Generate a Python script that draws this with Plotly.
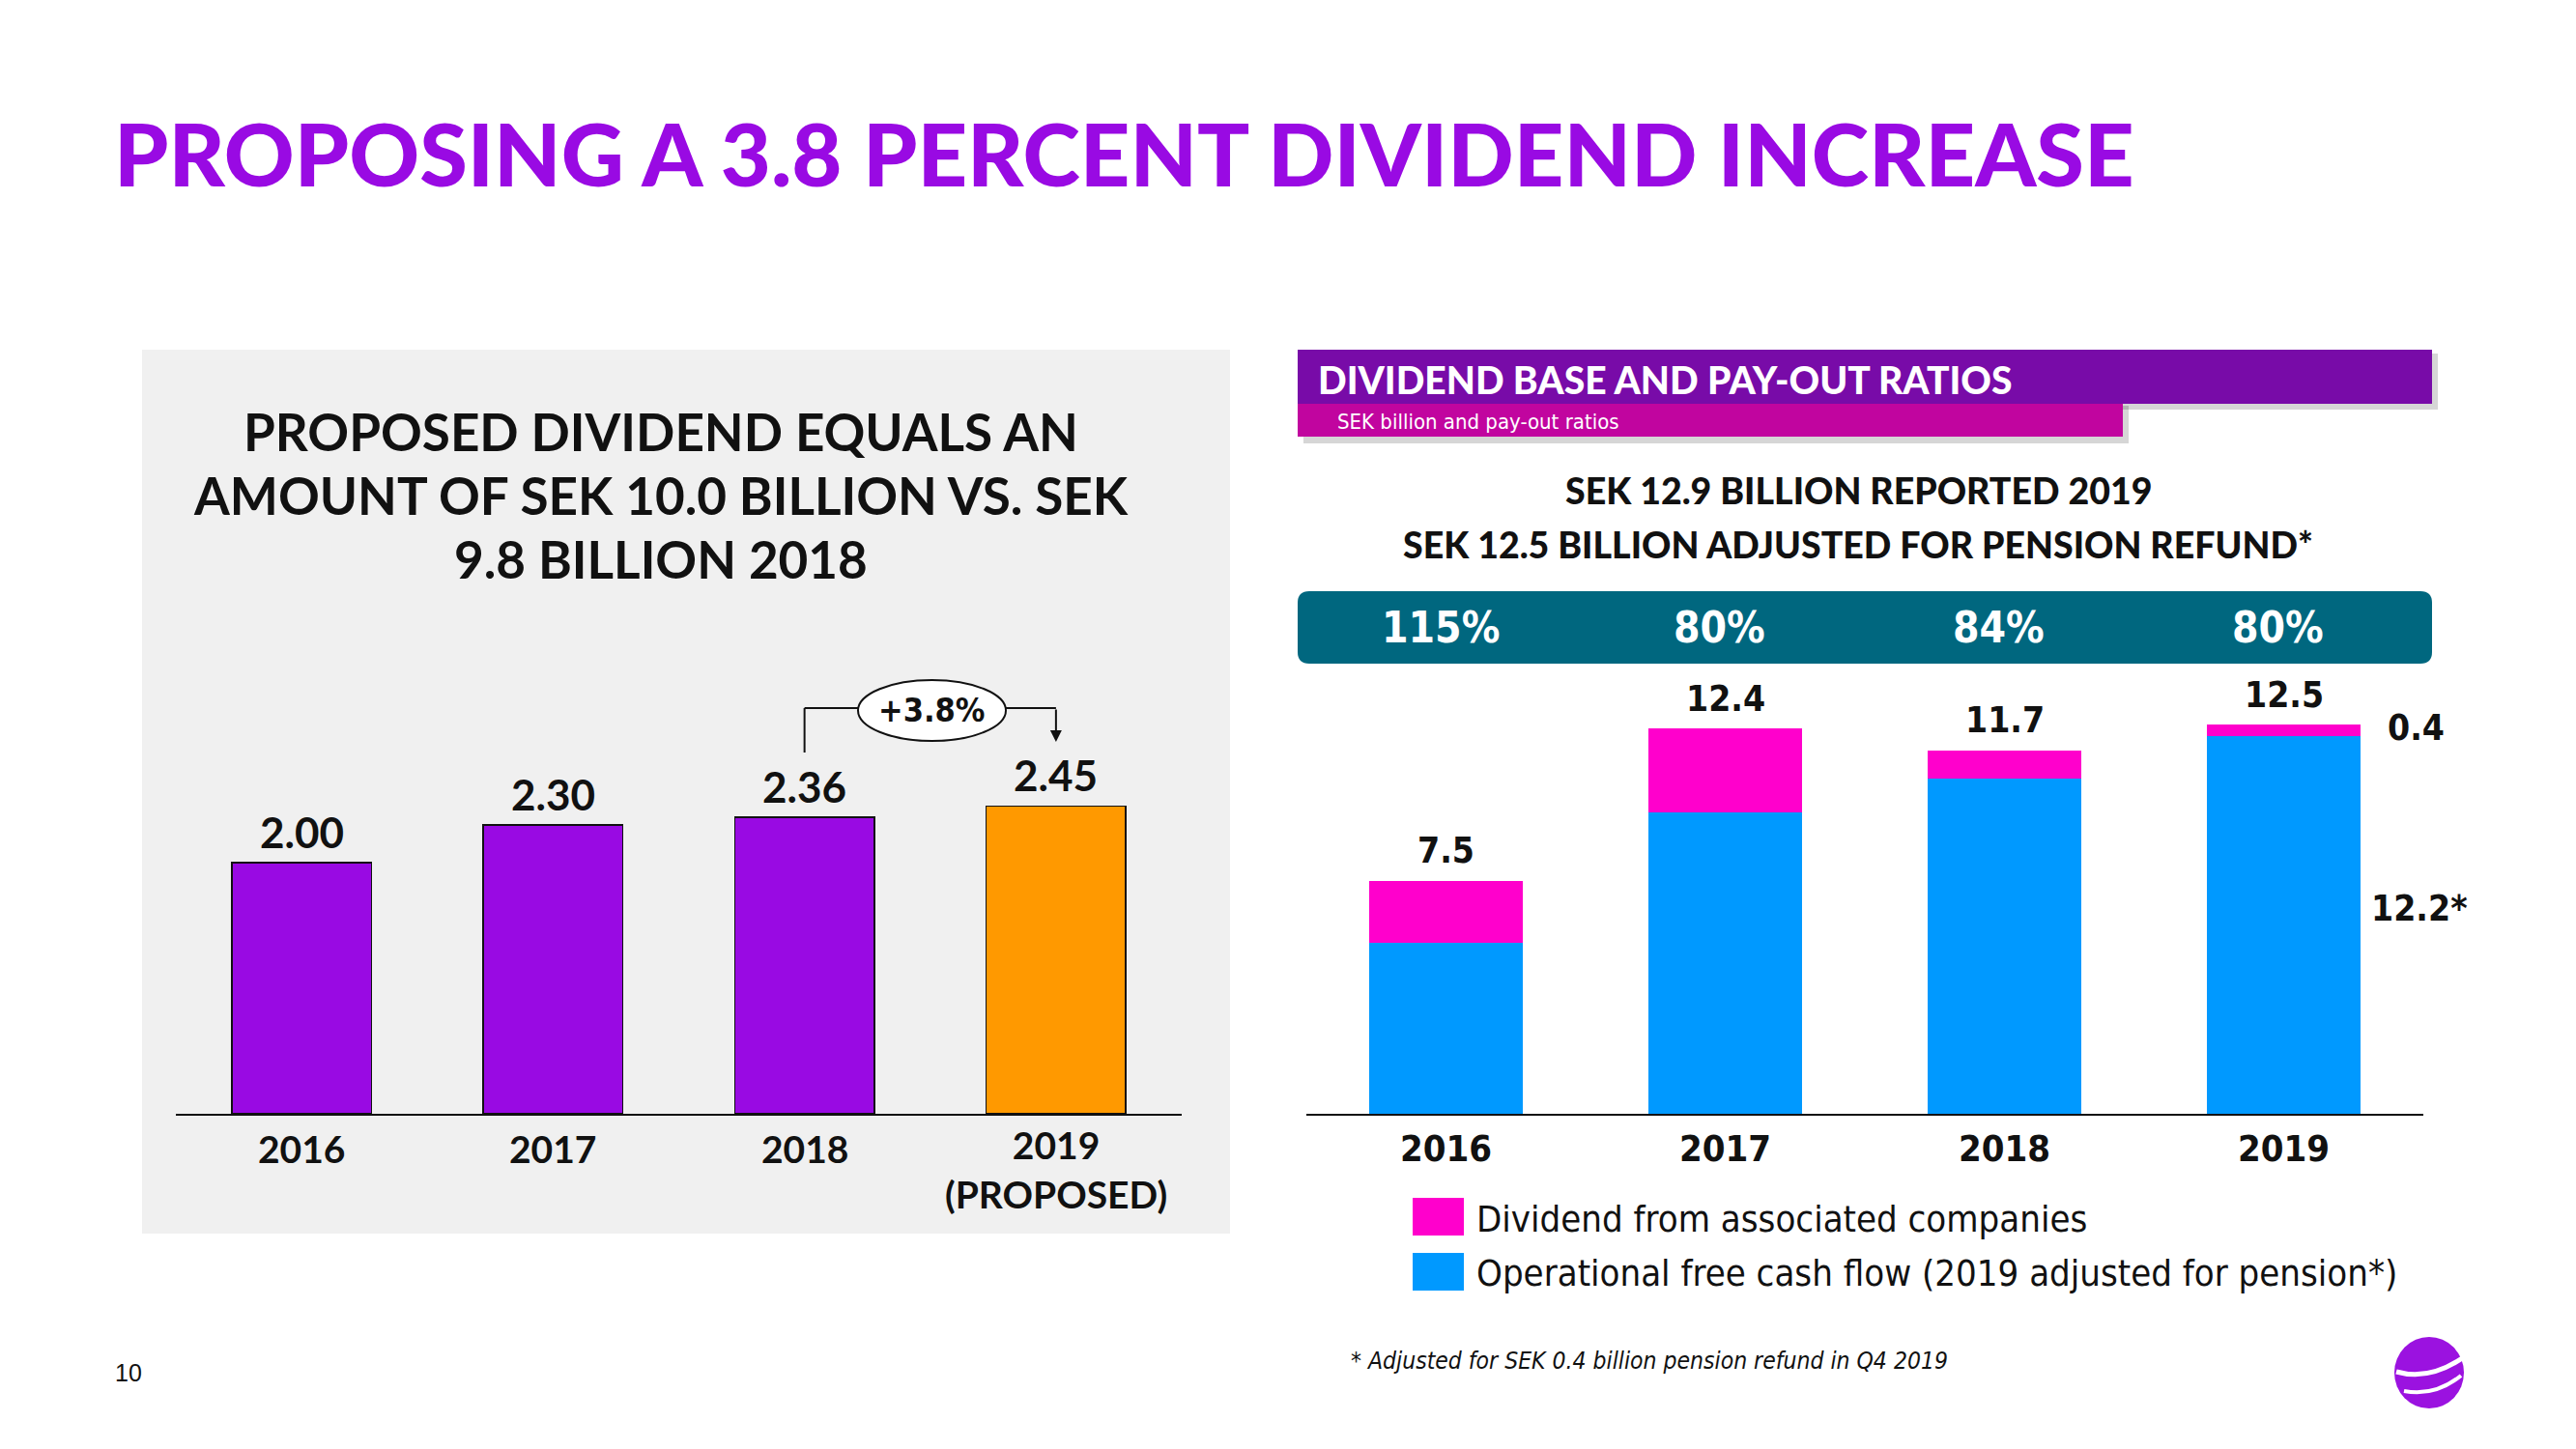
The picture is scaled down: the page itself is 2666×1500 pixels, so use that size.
import plotly.graph_objects as go

W, H = 2666, 1500
OFF = 8  # default page margin of the html body
def px(x): return (x - OFF) / W
def py(y): return 1 - (y - OFF) / H

# ---------------- data ----------------
div_years = ["2016", "2017", "2018", "2019<br>(PROPOSED)"]
div_per_share = [2.00, 2.30, 2.36, 2.45]
div_labels = ["2.00", "2.30", "2.36", "2.45"]
div_colors = ["#990AE3", "#990AE3", "#990AE3", "#FF9900"]

base_years = ["2016", "2017", "2018", "2019"]
ofcf = [5.5, 9.7, 10.8, 12.15]          # Operational free cash flow
assoc = [2.0, 2.7, 0.9, 0.37]           # Dividend from associated companies
total_labels = ["7.5", "12.4", "11.7", "12.5"]
payout = ["115%", "80%", "84%", "80%"]
increase_label = "+3.8%"

left_title_lines = ["PROPOSED DIVIDEND EQUALS AN", "AMOUNT OF SEK 10.0 BILLION VS. SEK", "9.8 BILLION 2018"]

GEO = "Lato, 'Open Sans', sans-serif"
NARROW = "'Liberation Sans Narrow', 'DejaVu Sans Condensed', 'Liberation Sans', sans-serif"
PURPLE = "#990AE3"
INK = "#111111"

fig = go.Figure()

fig.add_trace(go.Bar(
    x=div_years, y=div_per_share, xaxis="x", yaxis="y", name="Dividend per share (SEK)",
    marker=dict(color=div_colors, line=dict(color=INK, width=1.5)),
    width=0.556, showlegend=False))

fig.add_trace(go.Bar(
    x=base_years, y=ofcf, xaxis="x2", yaxis="y2", name="Operational free cash flow (2019 adjusted for pension*)",
    marker=dict(color="#0099FF", line=dict(width=0)), width=0.553, showlegend=False))
fig.add_trace(go.Bar(
    x=base_years, y=assoc, xaxis="x2", yaxis="y2", name="Dividend from associated companies",
    marker=dict(color="#FF00CC", line=dict(width=0)), width=0.553, showlegend=False))

ann = []
shapes = []

# page title
ann.append(dict(text="PROPOSING A 3.8 PERCENT DIVIDEND INCREASE", x=px(116), y=py(158),
                xref="paper", yref="paper", xanchor="left", yanchor="middle", showarrow=False,
                font=dict(family=GEO, size=90, color=PURPLE, weight=900)))

# left panel background
shapes.append(dict(type="rect", xref="paper", yref="paper", x0=px(147), x1=px(1273), y0=py(1277), y1=py(362),
                   fillcolor="#F0F0F0", line=dict(width=0), layer="below"))
for line_text, yy in zip(left_title_lines, [446, 512, 578]):
    ann.append(dict(text=line_text, x=px(684), y=py(yy), xref="paper", yref="paper", xanchor="center",
                    yanchor="middle", showarrow=False,
                    font=dict(family=GEO, size=53, color=INK, weight="bold")))

# left value labels and category labels
for i, (v, lab) in enumerate(zip(div_per_share, div_labels)):
    ann.append(dict(text=lab, x=i, y=v, xref="x", yref="y", yshift=32, yanchor="middle", showarrow=False,
                    font=dict(family=GEO, size=44, color=INK, weight="bold")))
for i, lab in enumerate(div_years):
    two = "<br>" in lab
    ann.append(dict(text=lab, x=i, y=py(1210 if two else 1189), xref="x", yref="paper", yanchor="middle",
                    showarrow=False, align="center",
                    font=dict(family=GEO, size=39, color=INK, weight="bold")))

# +3.8% bracket
shapes.append(dict(type="line", xref="x", yref="paper", x0=2, x1=2, y0=py(779), y1=py(733),
                   line=dict(color=INK, width=2)))
shapes.append(dict(type="line", xref="x", yref="paper", x0=2, x1=3, y0=py(733), y1=py(733),
                   line=dict(color=INK, width=2)))
shapes.append(dict(type="circle", xref="paper", yref="paper", x0=px(888), x1=px(1041), y0=py(767), y1=py(704),
                   fillcolor="white", line=dict(color=INK, width=2)))
ann.append(dict(text="", x=3, y=py(768), xref="x", yref="paper", ax=0, ay=-35,
                showarrow=True, arrowhead=2, arrowsize=1.2, arrowwidth=2, arrowcolor=INK))
ann.append(dict(text=increase_label, x=px(964), y=py(735), xref="paper", yref="paper", showarrow=False,
                xanchor="center", yanchor="middle",
                font=dict(family=NARROW, size=34, color=INK, weight="bold")))

# right panel header bands
shapes.append(dict(type="rect", xref="paper", yref="paper", x0=px(1349), x1=px(2523), y0=py(424), y1=py(366),
                   fillcolor="rgba(0,0,0,0.16)", line=dict(width=0)))
shapes.append(dict(type="rect", xref="paper", yref="paper", x0=px(1349), x1=px(2203), y0=py(459), y1=py(420),
                   fillcolor="rgba(0,0,0,0.16)", line=dict(width=0)))
shapes.append(dict(type="rect", xref="paper", yref="paper", x0=px(1343), x1=px(2517), y0=py(418), y1=py(362),
                   fillcolor="#780BA8", line=dict(width=0)))
shapes.append(dict(type="rect", xref="paper", yref="paper", x0=px(1343), x1=px(2197), y0=py(452), y1=py(418),
                   fillcolor="#C1059F", line=dict(width=0)))
ann.append(dict(text="DIVIDEND BASE AND PAY-OUT RATIOS", x=px(1362), y=py(393), xref="paper", yref="paper",
                xanchor="left", yanchor="middle", showarrow=False,
                font=dict(family=GEO, size=39, color="white", weight=900)))
ann.append(dict(text="SEK billion and pay-out ratios", x=px(1382), y=py(436), xref="paper", yref="paper",
                xanchor="left", yanchor="middle", showarrow=False,
                font=dict(family=NARROW, size=22, color="white")))

ann.append(dict(text="SEK 12.9 BILLION REPORTED 2019", x=px(1923), y=py(507), xref="paper", yref="paper",
                xanchor="center", yanchor="middle", showarrow=False,
                font=dict(family=GEO, size=37.5, color=INK, weight=900)))
ann.append(dict(text="SEK 12.5 BILLION ADJUSTED FOR PENSION REFUND*", x=px(1923), y=py(563), xref="paper",
                yref="paper", xanchor="center", yanchor="middle", showarrow=False,
                font=dict(family=GEO, size=37.5, color=INK, weight=900)))

# teal rounded band
x0, x1, y0, y1 = px(1343), px(2517), py(687), py(612)
rx, ry = 12 / W, 12 / H
path = (f"M {x0+rx},{y1} L {x1-rx},{y1} Q {x1},{y1} {x1},{y1-ry} L {x1},{y0+ry} Q {x1},{y0} {x1-rx},{y0} "
        f"L {x0+rx},{y0} Q {x0},{y0} {x0},{y0+ry} L {x0},{y1-ry} Q {x0},{y1} {x0+rx},{y1} Z")
shapes.append(dict(type="path", xref="paper", yref="paper", path=path, fillcolor="#00677F", line=dict(width=0)))
for i, p in enumerate(payout):
    ann.append(dict(text=p, x=i, y=py(650), xref="x2", yref="paper", xshift=-6, yanchor="middle",
                    showarrow=False, font=dict(family=NARROW, size=44, color="white", weight="bold")))

# right total labels and category labels
for i, (a, b, lab) in enumerate(zip(ofcf, assoc, total_labels)):
    ann.append(dict(text=lab, x=i, y=a + b, xref="x2", yref="y2", yshift=31, yanchor="middle",
                    showarrow=False, font=dict(family=NARROW, size=37, color=INK, weight="bold")))
for i, lab in enumerate(base_years):
    ann.append(dict(text=lab, x=i, y=py(1189), xref="x2", yref="paper", yanchor="middle",
                    showarrow=False, font=dict(family=NARROW, size=38, color=INK, weight="bold")))
ann.append(dict(text="0.4", x=3, y=ofcf[3] + assoc[3] / 2, xref="x2", yref="y2", xshift=137,
                yshift=3, yanchor="middle", showarrow=False,
                font=dict(family=NARROW, size=37, color=INK, weight="bold")))
ann.append(dict(text="12.2*", x=3, y=ofcf[3] / 2, xref="x2", yref="y2", xshift=140,
                yshift=17, yanchor="middle", showarrow=False,
                font=dict(family=NARROW, size=37, color=INK, weight="bold")))

# legend (manual)
shapes.append(dict(type="rect", xref="paper", yref="paper", x0=px(1462), x1=px(1515), y0=py(1279), y1=py(1240),
                   fillcolor="#FF00CC", line=dict(width=0)))
shapes.append(dict(type="rect", xref="paper", yref="paper", x0=px(1462), x1=px(1515), y0=py(1336), y1=py(1297),
                   fillcolor="#0099FF", line=dict(width=0)))
ann.append(dict(text="Dividend from associated companies", x=px(1526), y=py(1262), xref="paper", yref="paper",
                xanchor="left", yanchor="middle", showarrow=False,
                font=dict(family=NARROW, size=38, color=INK)))
ann.append(dict(text="Operational free cash flow (2019 adjusted for pension*)", x=px(1526), y=py(1318),
                xref="paper", yref="paper", xanchor="left", yanchor="middle", showarrow=False,
                font=dict(family=NARROW, size=38, color=INK)))

# footnote and page number
ann.append(dict(text="* Adjusted for SEK 0.4 billion pension refund in Q4 2019", x=px(1396), y=py(1408),
                xref="paper", yref="paper", xanchor="left", yanchor="middle", showarrow=False,
                font=dict(family=NARROW, size=24.5, color=INK, style="italic")))
ann.append(dict(text="10", x=px(117), y=py(1421), xref="paper", yref="paper", xanchor="left", yanchor="middle",
                showarrow=False, font=dict(family="'Liberation Sans', Arial, sans-serif", size=25, color=INK)))

# logo
shapes.append(dict(type="circle", xref="paper", yref="paper", x0=px(2478), x1=px(2550), y0=py(1458), y1=py(1384),
                   fillcolor="#9B12E0", line=dict(width=0)))
shapes.append(dict(type="path", xref="paper", yref="paper",
                   path=f"M {px(2480)},{py(1420)} Q {px(2515)},{py(1430)} {px(2551)},{py(1404)}",
                   line=dict(color="white", width=5)))
shapes.append(dict(type="path", xref="paper", yref="paper",
                   path=f"M {px(2488)},{py(1440)} Q {px(2520)},{py(1446)} {px(2547)},{py(1424)}",
                   line=dict(color="white", width=4)))

fig.update_layout(
    width=W, height=H, margin=dict(l=0, r=0, t=0, b=0),
    paper_bgcolor="white", plot_bgcolor="rgba(0,0,0,0)",
    barmode="stack", annotations=ann, shapes=shapes,
    xaxis=dict(domain=[px(182), px(1223)], range=[-0.5, 3.5], type="category", anchor="y",
               showline=True, linecolor=INK, linewidth=2, ticks="", showgrid=False, showticklabels=False),
    yaxis=dict(domain=[py(1153), py(700)], range=[0, 453 / 130.07], visible=False, anchor="x"),
    xaxis2=dict(domain=[px(1352), px(2508)], range=[-0.5, 3.5], type="category", anchor="y2",
                showline=True, linecolor=INK, linewidth=2, ticks="", showgrid=False, showticklabels=False),
    yaxis2=dict(domain=[py(1153), py(700)], range=[0, 453 / 32.17], visible=False, anchor="x2"),
)

fig.write_html("out.html")
